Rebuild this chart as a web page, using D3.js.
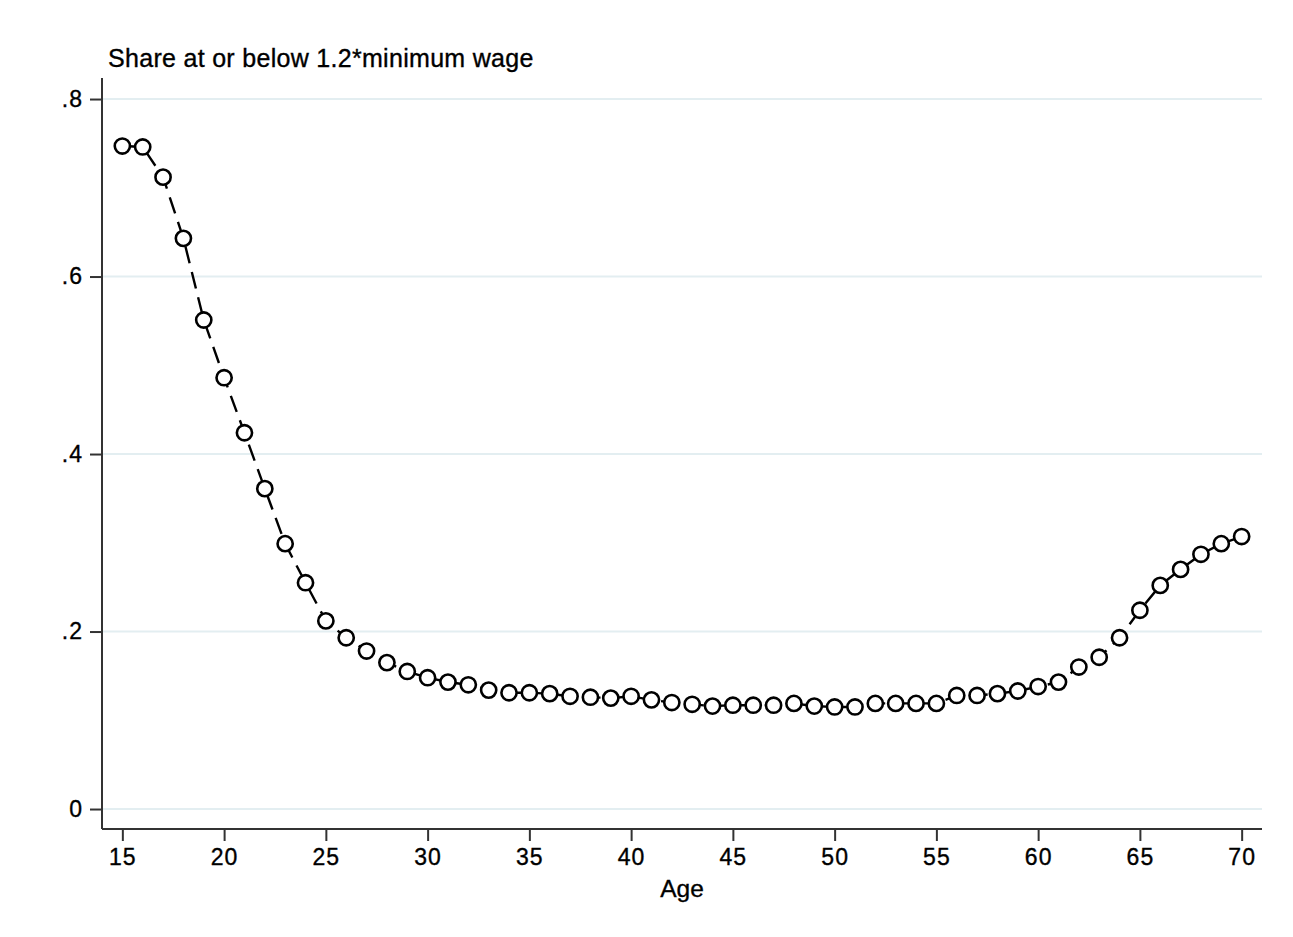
<!DOCTYPE html>
<html>
<head>
<meta charset="utf-8">
<script src="https://cdn.jsdelivr.net/npm/d3@7/dist/d3.min.js"></script>
<style>
  html, body { margin: 0; padding: 0; background: #ffffff; }
  svg { display: block; }
  text { font-family: "Liberation Sans", Arial, Helvetica, sans-serif; fill: #000; stroke: #000; stroke-width: 0.35px; }
</style>
</head>
<body>
<svg id="chart" width="1293" height="937"></svg>
<script>
// Share of workers at or below 1.2 x minimum wage, by age
const ages = d3.range(15, 71);
const shares = [
  0.747, 0.746, 0.712, 0.643, 0.551, 0.486, 0.424, 0.361, 0.299, 0.255,
  0.212, 0.193, 0.178, 0.165, 0.155, 0.148, 0.143, 0.140, 0.134, 0.131,
  0.131, 0.130, 0.127, 0.126, 0.125, 0.127, 0.123, 0.120, 0.118, 0.116,
  0.117, 0.117, 0.117, 0.119, 0.116, 0.115, 0.115, 0.119, 0.119, 0.119,
  0.119, 0.128, 0.128, 0.130, 0.133, 0.138, 0.143, 0.160, 0.171, 0.193,
  0.224, 0.252, 0.270, 0.287, 0.299, 0.307
];
const xTicks = [15, 20, 25, 30, 35, 40, 45, 50, 55, 60, 65, 70];
const yTicks = [0, 0.2, 0.4, 0.6, 0.8];
const yTickLabels = ["0", ".2", ".4", ".6", ".8"];
const titleText = "Share at or below 1.2*minimum wage";
const xTitle = "Age";

const data = ages.map((a, i) => ({ age: a, share: shares[i] }));

const svg = d3.select("#chart");
const plot = { left: 102, right: 1262, top: 78, bottom: 829 };

const x = d3.scaleLinear().domain([14, 71]).range([plot.left, plot.right]);
const y = d3.scaleLinear().domain([-0.0225, 0.8237]).range([plot.bottom, plot.top]);

// horizontal gridlines
svg.append("g")
  .selectAll("line")
  .data(yTicks)
  .join("line")
  .attr("x1", plot.left).attr("x2", plot.right)
  .attr("y1", d => y(d)).attr("y2", d => y(d))
  .attr("stroke", "#e3eef1")
  .attr("stroke-width", 2);

// x axis
const xAxis = svg.append("g")
  .attr("transform", `translate(0,${plot.bottom})`)
  .call(d3.axisBottom(x).tickValues(xTicks).tickSize(12).tickPadding(8).tickSizeOuter(0));
xAxis.select(".domain").attr("stroke", "#333").attr("stroke-width", 2).attr("d", `M${plot.left},0H${plot.right}`);
xAxis.selectAll(".tick line").attr("stroke", "#333").attr("stroke-width", 2);
xAxis.selectAll(".tick text")
  .attr("font-size", 23).attr("letter-spacing", 1)
  .attr("font-family", "Liberation Sans, Arial, sans-serif").attr("fill", "#000");

// y axis
const yAxis = svg.append("g")
  .attr("transform", `translate(${plot.left},0)`)
  .call(d3.axisLeft(y).tickValues(yTicks).tickFormat((d, i) => yTickLabels[i]).tickSize(12).tickPadding(7).tickSizeOuter(0));
yAxis.select(".domain").attr("stroke", "#333").attr("stroke-width", 2).attr("d", `M0,${plot.top}V${plot.bottom}`);
yAxis.selectAll(".tick line").attr("stroke", "#333").attr("stroke-width", 2);
yAxis.selectAll(".tick text")
  .attr("font-size", 23).attr("letter-spacing", 1)
  .attr("font-family", "Liberation Sans, Arial, sans-serif").attr("fill", "#000");

// connecting dashed line
const line = d3.line().x(d => x(d.age)).y(d => y(d.share));
svg.append("path")
  .datum(data)
  .attr("d", line)
  .attr("fill", "none")
  .attr("stroke", "#000")
  .attr("stroke-width", 2.4)
  .attr("stroke-dasharray", "17,9");

// hollow circle markers
svg.append("g")
  .selectAll("circle")
  .data(data)
  .join("circle")
  .attr("cx", d => x(d.age))
  .attr("cy", d => y(d.share))
  .attr("r", 7.6)
  .attr("fill", "#fff")
  .attr("stroke", "#000")
  .attr("stroke-width", 2.6);

// titles
svg.append("text")
  .attr("x", 108).attr("y", 67)
  .attr("font-size", 25)
  .attr("letter-spacing", 0.3)
  .text(titleText);

svg.append("text")
  .attr("x", (plot.left + plot.right) / 2).attr("y", 897)
  .attr("text-anchor", "middle")
  .attr("font-size", 24.5)
  .text(xTitle);
</script>
</body>
</html>
